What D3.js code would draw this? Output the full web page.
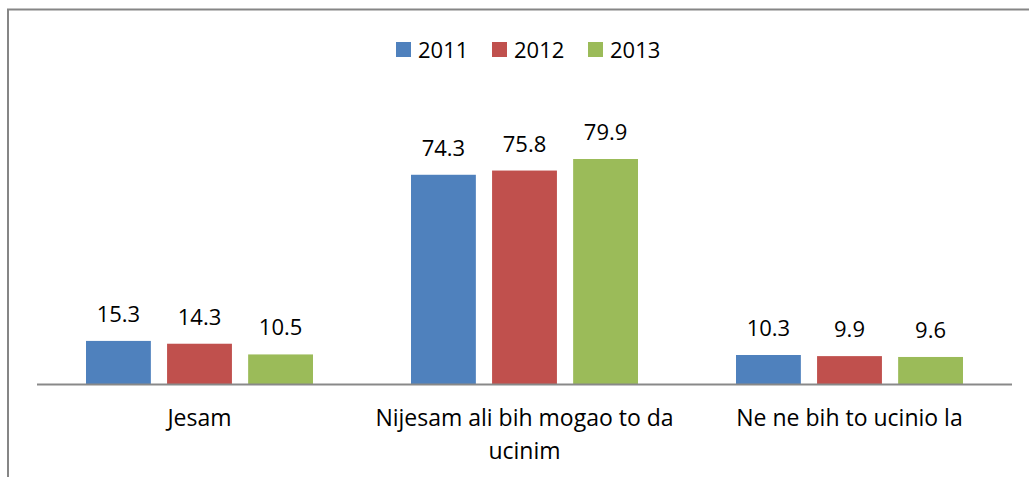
<!DOCTYPE html>
<html>
<head>
<meta charset="utf-8">
<script src="https://cdn.jsdelivr.net/npm/d3@7"></script>
<style>
  body { margin: 0; background: #fff; }
  svg { display: block; font-family: "Open Sans", "Liberation Sans", Arial, sans-serif; }
</style>
</head>
<body>
<svg id="chart" width="1029" height="477"></svg>
<script>
// data
const categories = ["Jesam", "Nijesam ali bih mogao to da ucinim", "Ne ne bih to ucinio la"]
const years = ["2011", "2012", "2013"]
const values2011 = [15.3, 74.3, 10.3]
const values2012 = [14.3, 75.8, 9.9]
const values2013 = [10.5, 79.9, 9.6]
const colors = ["#4F81BD", "#C0504D", "#9BBB59"]

const seriesValues = [values2011, values2012, values2013]

const svg = d3.select("#chart")

// outer chart frame (only top/left visible)
svg.append("rect")
  .attr("x", 8).attr("y", 9.5)
  .attr("width", 1100).attr("height", 1000)
  .attr("fill", "none")
  .attr("stroke", "#868686")
  .attr("stroke-width", 2)

const left = 37, right = 1012, baseY = 384

const x0 = d3.scaleBand().domain(categories).range([left, right])
const x1 = d3.scaleBand().domain(years).range([0, 227]).paddingInner(0.2)
const y = d3.scaleLinear().domain([0, 100]).range([baseY, baseY - 281.6])

let rows = []
categories.forEach((c, ci) => {
  years.forEach((yr, si) => {
    rows.push({cat: c, year: yr, value: seriesValues[si][ci], color: colors[si]})
  })
})

const groupOffset = (x0.bandwidth() - 227) / 2

svg.selectAll(".bar")
  .data(rows)
  .enter()
  .append("rect")
  .attr("class", "bar")
  .attr("x", d => x0(d.cat) + groupOffset + x1(d.year))
  .attr("width", x1.bandwidth())
  .attr("y", d => y(d.value))
  .attr("height", d => y(0) - y(d.value))
  .attr("fill", d => d.color)

svg.selectAll(".val")
  .data(rows)
  .enter()
  .append("text")
  .attr("class", "val")
  .attr("x", d => x0(d.cat) + groupOffset + x1(d.year) + x1.bandwidth() / 2)
  .attr("y", d => y(d.value) - 19)
  .attr("text-anchor", "middle")
  .style("font-size", "22px")
  .attr("fill", "#000")
  .text(d => d.value.toFixed(1))

// category axis
svg.append("line")
  .attr("x1", left).attr("x2", right)
  .attr("y1", baseY + 0.5).attr("y2", baseY + 0.5)
  .attr("stroke", "#898989")
  .attr("stroke-width", 2)

const catLabels = svg.selectAll(".cat")
  .data(categories)
  .enter()
  .append("text")
  .attr("class", "cat")
  .attr("text-anchor", "middle")
  .style("font-size", "23px")
  .attr("fill", "#000")

catLabels.each(function(d) {
  const t = d3.select(this)
  const cx = x0(d) + x0.bandwidth() / 2
  const words = d.split(" ")
  let lines = [], line = []
  const probe = t.append("tspan")
  words.forEach(w => {
    const test = line.concat([w]).join(" ")
    probe.text(test)
    if (probe.node().getComputedTextLength() > 318 && line.length) {
      lines.push(line.join(" "))
      line = [w]
    } else {
      line.push(w)
    }
  })
  lines.push(line.join(" "))
  probe.remove()
  lines.forEach((l, i) => {
    t.append("tspan").attr("x", cx).attr("y", 426 + i * 33).text(l)
  })
})

// legend
const legendX = [396, 492, 588]
const legend = svg.selectAll(".legend")
  .data(years)
  .enter()
  .append("g")
  .attr("class", "legend")
  .attr("transform", (d, i) => "translate(" + legendX[i] + ",42)")

legend.append("rect")
  .attr("width", 15).attr("height", 15)
  .attr("fill", (d, i) => colors[i])

legend.append("text")
  .attr("x", 22).attr("y", 16)
  .style("font-size", "22px")
  .attr("fill", "#000")
  .text(d => d)
</script>
</body>
</html>
